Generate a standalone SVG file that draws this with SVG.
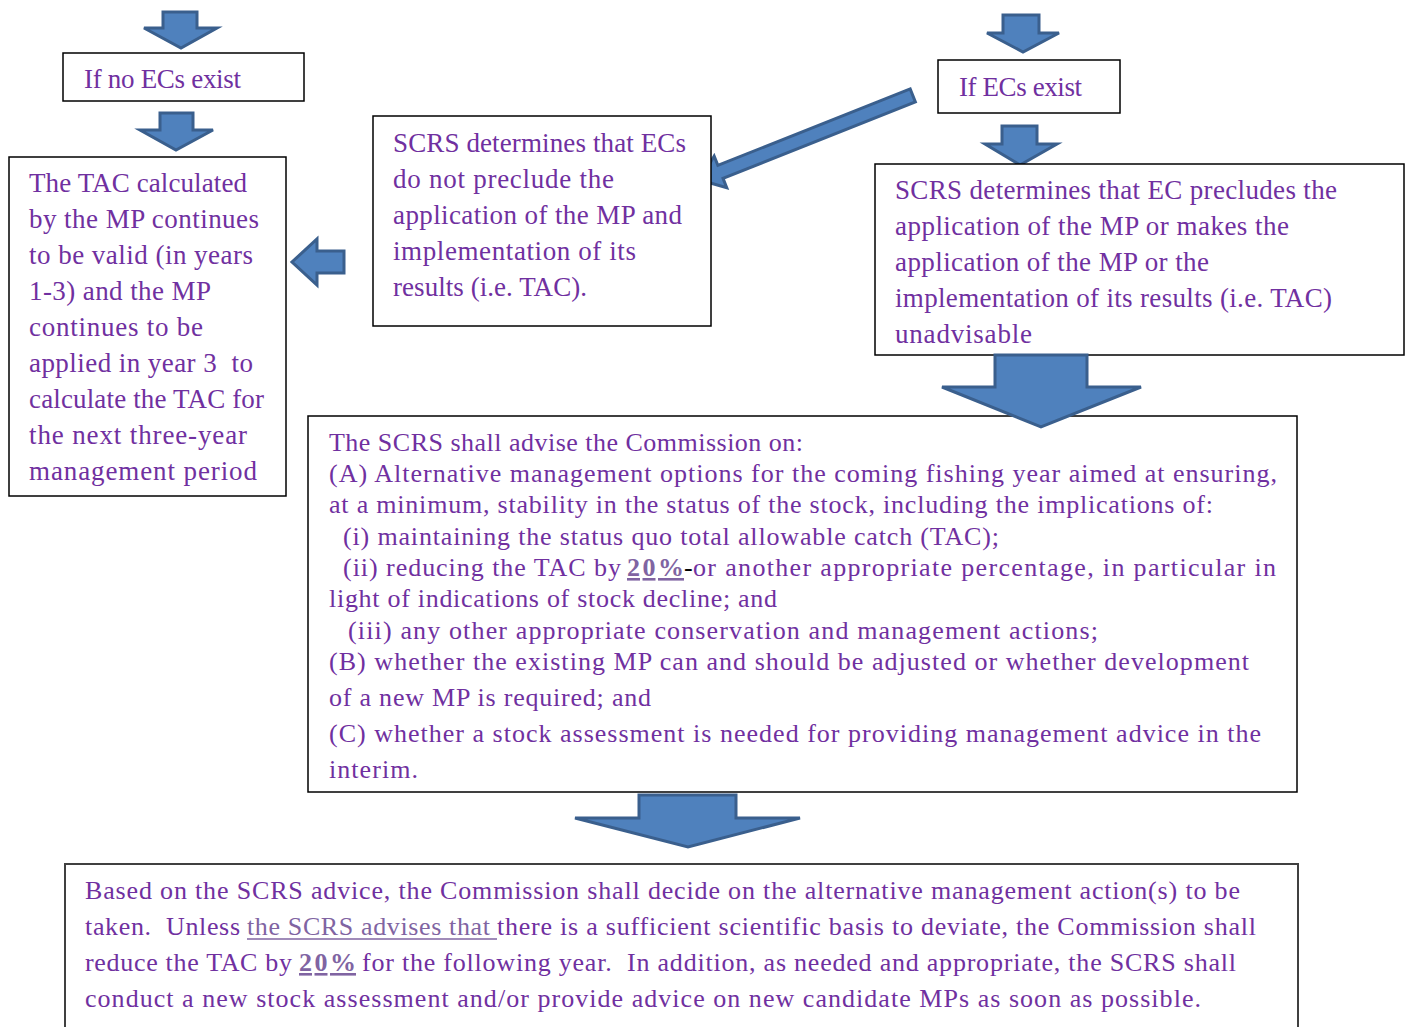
<svg xmlns="http://www.w3.org/2000/svg" width="1408" height="1027" viewBox="0 0 1408 1027">
<style>
.box{fill:#fff;stroke:#000;stroke-width:1.5}
.arr{fill:#4F81BD;stroke:#3A5F8D;stroke-width:3;stroke-linejoin:miter}
text{font-family:"Liberation Serif","Times New Roman",serif;fill:#7030A0}
.s26{font-size:27px}
.s25{font-size:26px}
.hl{fill:#8064A2}
.b{font-weight:bold}
</style>
<rect width="1408" height="1027" fill="#fff"/>
<g id="connectors">
<polygon class="arr" points="163,12 197,12 197,28 217,28 181,48 144,28 163,28"/>
<polygon class="arr" points="160,113 193,113 193,130 213,130 176,150 140,130 160,130"/>
<polygon class="arr" points="1003,15 1039,15 1039,33 1059,33 1023,52 987,33 1003,33"/>
<polygon class="arr" points="1002,126 1037,126 1037,144 1057,144 1020,165 985,144 1002,144"/>
<polygon class="arr" points="344,251 317,251 317,239 292,262 317,285 317,273 344,273"/>
<polygon class="arr" transform="translate(700,180) rotate(-21.7)" points="0,0 22,-17 22,-7 229,-7 229,7 22,7 22,17"/>
</g>
<g id="node-no-ecs"><rect class="box" x="63" y="53" width="241" height="48"/>
<text class="s26" x="84" y="88" textLength="157">If no ECs exist</text></g>
<g id="node-ecs"><rect class="box" x="938" y="60" width="182" height="53"/>
<text class="s26" x="959" y="96" textLength="123">If ECs exist</text></g>
<g id="node-not-preclude"><rect class="box" x="373" y="116" width="338" height="210"/>
<text class="s26" x="393" y="152" textLength="293">SCRS determines that ECs</text>
<text class="s26" x="393" y="188" textLength="221">do not preclude the</text>
<text class="s26" x="393" y="224" textLength="289">application of the MP and</text>
<text class="s26" x="393" y="260" textLength="243">implementation of its</text>
<text class="s26" x="393" y="296" textLength="194">results (i.e. TAC).</text></g>
<g id="node-tac-valid"><rect class="box" x="9" y="157" width="277" height="339"/>
<text class="s26" x="29" y="192" textLength="218">The TAC calculated</text>
<text class="s26" x="29" y="228" textLength="230">by the MP continues</text>
<text class="s26" x="29" y="264" textLength="224">to be valid (in years</text>
<text class="s26" x="29" y="300" textLength="182">1-3) and the MP</text>
<text class="s26" x="29" y="336" textLength="174">continues to be</text>
<text class="s26" x="29" y="372" textLength="224" xml:space="preserve">applied in year 3  to</text>
<text class="s26" x="29" y="408" textLength="235">calculate the TAC for</text>
<text class="s26" x="29" y="444" textLength="218">the next three-year</text>
<text class="s26" x="29" y="480" textLength="228">management period</text></g>
<g id="node-precludes"><rect class="box" x="875" y="164" width="529" height="191"/>
<text class="s26" x="895" y="199" textLength="442">SCRS determines that EC precludes the</text>
<text class="s26" x="895" y="235" textLength="394">application of the MP or makes the</text>
<text class="s26" x="895" y="271" textLength="314">application of the MP or the</text>
<text class="s26" x="895" y="307" textLength="437">implementation of its results (i.e. TAC)</text>
<text class="s26" x="895" y="343" textLength="137">unadvisable</text></g>
<g id="node-advise"><rect class="box" x="308" y="416" width="989" height="376"/>
<text class="s25" x="329" y="451" textLength="474">The SCRS shall advise the Commission on:</text>
<text class="s25" x="329" y="482" textLength="948">(A) Alternative management options for the coming fishing year aimed at ensuring,</text>
<text class="s25" x="329" y="513" textLength="884">at a minimum, stability in the status of the stock, including the implications of:</text>
<text class="s25" x="343" y="545" textLength="656">(i) maintaining the status quo total allowable catch (TAC);</text>
<text class="s25" x="343" y="576" textLength="278">(ii) reducing the TAC by</text>
<text class="s25 hl b" x="627" y="576" textLength="57" text-decoration="underline">20%</text>
<text class="s25" x="684" y="576" style="fill:#000">-</text>
<text class="s25" x="693" y="576" textLength="583">or another appropriate percentage, in particular in</text>
<text class="s25" x="329" y="607" textLength="448">light of indications of stock decline; and</text>
<text class="s25" x="348" y="639" textLength="750">(iii) any other appropriate conservation and management actions;</text>
<text class="s25" x="329" y="670" textLength="920">(B) whether the existing MP can and should be adjusted or whether development</text>
<text class="s25" x="329" y="706" textLength="322">of a new MP is required; and</text>
<text class="s25" x="329" y="742" textLength="932">(C) whether a stock assessment is needed for providing management advice in the</text>
<text class="s25" x="329" y="778" textLength="89">interim.</text></g>
<g id="node-decision"><rect x="65" y="864" width="1233" height="180" fill="#fff" stroke="#404040" stroke-width="2"/>
<text class="s25" x="85" y="899" textLength="1155">Based on the SCRS advice, the Commission shall decide on the alternative management action(s) to be</text>
<text class="s25" x="85" y="935" textLength="155" xml:space="preserve">taken.  Unless</text>
<text class="s25 hl" x="247" y="935" textLength="243">the SCRS advises that</text>
<line x1="247" y1="939" x2="497" y2="939" stroke="#8064A2" stroke-width="1.5"/>
<text class="s25" x="497" y="935" textLength="759">there is a sufficient scientific basis to deviate, the Commission shall</text>
<text class="s25" x="85" y="971" textLength="207">reduce the TAC by</text>
<text class="s25 hl b" x="299" y="971" textLength="57" text-decoration="underline">20%</text>
<text class="s25" x="362" y="971" textLength="874" xml:space="preserve">for the following year.  In addition, as needed and appropriate, the SCRS shall</text>
<text class="s25" x="85" y="1007" textLength="1116">conduct a new stock assessment and/or provide advice on new candidate MPs as soon as possible.</text></g>
<polygon class="arr" points="995,355 1087,355 1087,387 1141,387 1041,427 942,387 995,387"/>
<polygon class="arr" points="639,795 736,795 736,818 800,818 688,847 575,818 639,818"/>
</svg>
